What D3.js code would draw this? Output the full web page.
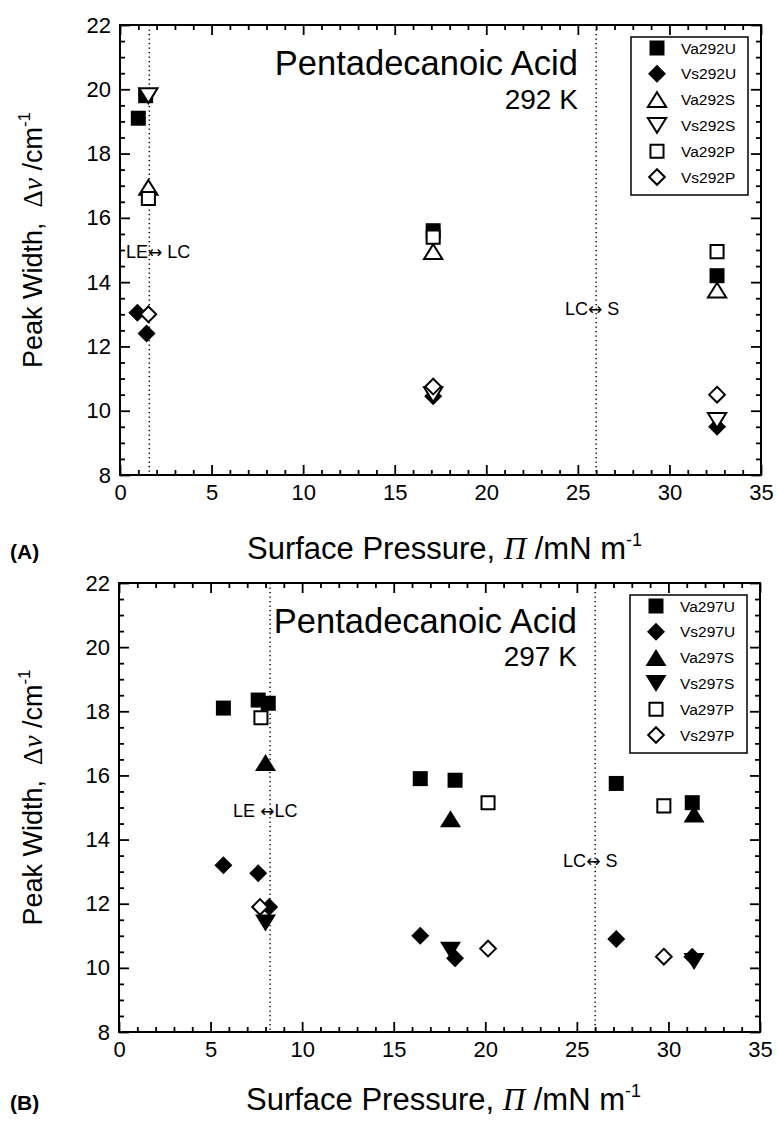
<!DOCTYPE html>
<html>
<head>
<meta charset="utf-8">
<script src="https://cdn.jsdelivr.net/npm/d3@7"></script>
<style>
  body { margin: 0; background: #fff; }
  svg { display: block; font-family: "Liberation Sans", Arial, Helvetica, sans-serif; }
</style>
</head>
<body>
<svg width="778" height="1124"></svg>
<script>
////////////
// DATA  //
////////////

const xTicks = [0, 5, 10, 15, 20, 25, 30, 35];
const yTicks = [8, 10, 12, 14, 16, 18, 20, 22];

// panel A, 292 K  ([surface pressure, peak width])
const names292 = ["Va292U", "Vs292U", "Va292S", "Vs292S", "Va292P", "Vs292P"];
const va292U = [[1.0, 19.1], [1.4, 19.8], [17.1, 15.6], [32.6, 14.2]];
const vs292U = [[0.95, 13.05], [1.45, 12.4], [17.1, 10.45], [32.6, 9.5]];
const va292S = [[1.55, 16.95], [17.1, 14.95], [32.6, 13.75]];
const vs292S = [[1.55, 19.8], [17.1, 10.5], [32.6, 9.7]];
const va292P = [[1.55, 16.6], [17.1, 15.4], [32.6, 14.95]];
const vs292P = [[1.55, 13.0], [17.1, 10.75], [32.6, 10.5]];
const phase292 = [1.6, 26];

// panel B, 297 K
const names297 = ["Va297U", "Vs297U", "Va297S", "Vs297S", "Va297P", "Vs297P"];
const va297U = [[5.7, 18.1], [7.6, 18.35], [8.15, 18.25], [16.45, 15.9], [18.35, 15.85], [27.15, 15.75], [31.3, 15.15]];
const vs297U = [[5.7, 13.2], [7.6, 12.95], [8.2, 11.9], [16.45, 11.0], [18.35, 10.3], [27.15, 10.9], [31.3, 10.35]];
const va297S = [[8.0, 16.4], [18.1, 14.65], [31.4, 14.8]];
const vs297S = [[8.0, 11.4], [18.1, 10.55], [31.4, 10.2]];
const va297P = [[7.75, 17.8], [20.15, 15.15], [29.75, 15.05]];
const vs297P = [[7.7, 11.9], [20.15, 10.6], [29.75, 10.35]];
const phase297 = [8.25, 26];

//////////////
// GRAPHICS //
//////////////

let svg = d3.select("svg");

const panels = [
  {
    letter: "(A)", temp: "292 K", names: names292,
    series: [va292U, vs292U, va292S, vs292S, va292P, vs292P],
    phase: phase292,
    shapes: ["square", "diamond", "triUp", "triDown", "square", "diamond"],
    filled: [true, true, false, false, false, false],
    ann: [{ a: "LE", b: " LC", x: 0.33, y: 14.75 }, { a: "LC", b: " S", x: 24.3, y: 12.98 }],
    box: { left: 120, right: 761, top: 25, bottom: 475 },
    xTitleY: 559
  },
  {
    letter: "(B)", temp: "297 K", names: names297,
    series: [va297U, vs297U, va297S, vs297S, va297P, vs297P],
    phase: phase297,
    shapes: ["square", "diamond", "triUp", "triDown", "square", "diamond"],
    filled: [true, true, true, true, false, false],
    ann: [{ a: "LE ", b: "LC", x: 6.23, y: 14.7 }, { a: "LC", b: " S", x: 24.25, y: 13.14 }],
    box: { left: 119, right: 760, top: 583, bottom: 1032 },
    xTitleY: 1110
  }
];

function markerPath(shape, filled) {
  // open symbols are drawn a bit smaller so the stroke keeps the same outer size
  let k = filled ? 1 : 0.87;
  let s = 7.5 * k, r = 9 * k, w = 10.5 * k, h = 8.5 * k;
  if (shape == "square") return `M${-s},${-s}H${s}V${s}H${-s}Z`;
  if (shape == "diamond") return `M0,${-r}L${r},0L0,${r}L${-r},0Z`;
  if (shape == "triUp") return `M0,${-h}L${w},${h}L${-w},${h}Z`;
  return `M0,${h}L${w},${-h}L${-w},${-h}Z`;
}

panels.forEach(drawPanel);

function drawPanel(p) {
  let b = p.box;
  let g = svg.append("g");

  let x = d3.scaleLinear().domain([0, 35]).range([b.left, b.right]);
  let y = d3.scaleLinear().domain([8, 22]).range([b.bottom, b.top]);

  // phase transition lines
  g.selectAll(".phase")
    .data(p.phase)
    .join("line")
    .attr("x1", d => x(d)).attr("x2", d => x(d))
    .attr("y1", b.top).attr("y2", b.bottom)
    .attr("stroke", "#000")
    .attr("stroke-width", 1.5)
    .attr("stroke-dasharray", "1.3,3.2");

  let ann = g.selectAll(".ann")
    .data(p.ann)
    .join("text")
    .attr("x", d => x(d.x))
    .attr("y", d => y(d.y))
    .attr("font-size", 18);
  ann.append("tspan").text(d => d.a);
  ann.append("tspan")
    .attr("font-family", "'DejaVu Sans', sans-serif")
    .attr("font-size", 17)
    .text("\u2194");
  ann.append("tspan").text(d => d.b);

  // title
  g.append("text")
    .attr("x", x(25))
    .attr("y", y(20.43))
    .attr("text-anchor", "end")
    .attr("font-size", 34.5)
    .text("Pentadecanoic Acid");
  g.append("text")
    .attr("x", x(25))
    .attr("y", y(19.4))
    .attr("text-anchor", "end")
    .attr("font-size", 28)
    .text(p.temp);

  // points
  p.series.forEach((vals, i) => {
    g.selectAll(null)
      .data(vals)
      .join("path")
      .attr("transform", d => `translate(${x(d[0])},${y(d[1])})`)
      .attr("d", markerPath(p.shapes[i], p.filled[i]))
      .attr("fill", p.filled[i] ? "#000" : "#fff")
      .attr("stroke", p.filled[i] ? "none" : "#000")
      .attr("stroke-width", 2);
  });

  // axes, ticks inward on all four sides
  let xMinor = d3.range(0, 36, 1).filter(v => v % 5);
  let yMinor = d3.range(8, 22.01, 0.5).filter(v => v % 2);

  let axes = [
    [d3.axisBottom(x).tickValues(xTicks).tickSize(-10).tickPadding(9), b.bottom, "x"],
    [d3.axisBottom(x).tickValues(xMinor).tickSize(-5).tickFormat(""), b.bottom, "x"],
    [d3.axisTop(x).tickValues(xTicks).tickSize(-10).tickFormat(""), b.top, "x"],
    [d3.axisTop(x).tickValues(xMinor).tickSize(-5).tickFormat(""), b.top, "x"],
    [d3.axisLeft(y).tickValues(yTicks).tickSize(-10).tickPadding(9), b.left, "y"],
    [d3.axisLeft(y).tickValues(yMinor).tickSize(-5).tickFormat(""), b.left, "y"],
    [d3.axisRight(y).tickValues(yTicks).tickSize(-10).tickFormat(""), b.right, "y"],
    [d3.axisRight(y).tickValues(yMinor).tickSize(-5).tickFormat(""), b.right, "y"]
  ];
  for (let a of axes) {
    let ag = g.append("g")
      .attr("transform", a[2] == "x" ? `translate(0,${a[1]})` : `translate(${a[1]},0)`)
      .call(a[0]);
    ag.select(".domain").remove();
    ag.selectAll("line").attr("stroke-width", 1.8);
    ag.selectAll("text")
      .attr("font-family", "'Liberation Sans', Arial, sans-serif")
      .attr("font-size", 22)
      .attr("fill", "#000");
  }

  g.append("rect")
    .attr("x", b.left).attr("y", b.top)
    .attr("width", b.right - b.left).attr("height", b.bottom - b.top)
    .attr("fill", "none")
    .attr("stroke", "#000")
    .attr("stroke-width", 2);

  // legend
  let lx = b.right - 130, ly = b.top + 12;
  g.append("rect")
    .attr("x", lx).attr("y", ly)
    .attr("width", 117).attr("height", 158)
    .attr("fill", "#fff")
    .attr("stroke", "#000")
    .attr("stroke-width", 1.5);
  let rows = g.selectAll(".leg")
    .data(p.names)
    .join("g")
    .attr("transform", (d, i) => `translate(${lx},${ly + 11 + i * 25.8})`);
  rows.append("path")
    .attr("transform", "translate(26,0)")
    .attr("d", (d, i) => markerPath(p.shapes[i], p.filled[i]))
    .attr("fill", (d, i) => p.filled[i] ? "#000" : "#fff")
    .attr("stroke", (d, i) => p.filled[i] ? "none" : "#000")
    .attr("stroke-width", 2);
  rows.append("text")
    .attr("x", 50)
    .attr("dy", "0.36em")
    .attr("font-size", 15.5)
    .text(d => d);

  // axis titles
  let cx = (b.left + b.right) / 2;
  let xt = svg.append("text")
    .attr("x", cx + 4)
    .attr("y", p.xTitleY)
    .attr("text-anchor", "middle")
    .attr("font-size", 31);
  xt.append("tspan").text("Surface Pressure, ");
  xt.append("tspan")
    .attr("font-family", "'Liberation Serif', 'Times New Roman', serif")
    .attr("font-style", "italic")
    .text("\u03A0");
  xt.append("tspan").text(" /mN m");
  xt.append("tspan").attr("font-size", 18).attr("dy", -13).text("-1");

  let cy = (b.top + b.bottom) / 2 - 10;
  let yt = svg.append("text")
    .attr("transform", `translate(42,${cy}) rotate(-90)`)
    .attr("text-anchor", "middle")
    .attr("font-size", 27);
  yt.append("tspan").text("Peak Width,\u00a0\u00a0");
  yt.append("tspan")
    .attr("font-family", "'Liberation Serif', 'Times New Roman', serif")
    .text("\u0394");
  yt.append("tspan")
    .attr("font-family", "'Liberation Serif', 'Times New Roman', serif")
    .attr("font-style", "italic")
    .text("\u03BD");
  yt.append("tspan").text(" /cm");
  yt.append("tspan").attr("font-size", 17).attr("dy", -12).text("-1");

  svg.append("text")
    .attr("x", 10)
    .attr("y", p.xTitleY)
    .attr("font-size", 21)
    .attr("font-weight", "bold")
    .text(p.letter);
}
</script>
</body>
</html>
